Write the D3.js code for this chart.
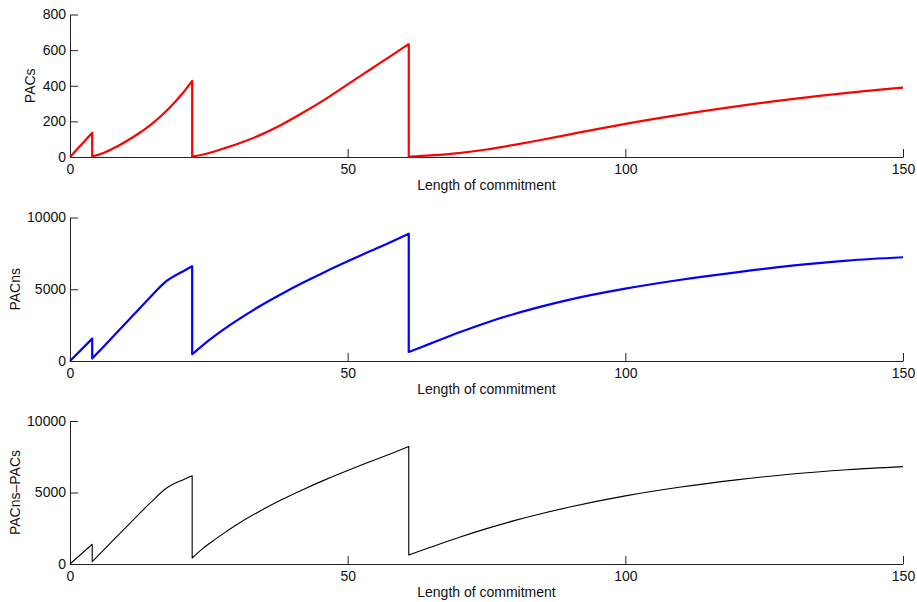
<!DOCTYPE html>
<html>
<head>
<meta charset="utf-8">
<script src="https://cdn.jsdelivr.net/npm/d3@7"></script>
<style>
  body { margin: 0; background: #fff; }
  svg text { font-family: 'Liberation Sans', Arial, Helvetica, sans-serif; font-size: 14px; fill: #111; }
  .axis path, .axis line { stroke: #222; }
</style>
</head>
<body>
<div id="chart"></div>
<script>
// --- data ---
const xTicks = [0, 50, 100, 150];
const pacsTicks = [0, 200, 400, 600, 800];
const pacnsTicks = [0, 5000, 10000];

// x samples of each commitment cycle (resets at 4, 22, 61)
const seg0X = [0, 4];
const seg1X = [4, 6, 8.4, 11.4, 14.4, 17.4, 20.4, 22];
const seg2X = [22, 24, 26, 28, 30, 34, 38, 42, 46, 50, 54, 58, 61];
const seg3X = [61, 65, 70, 75, 80, 85, 90, 100, 110, 120, 130, 140, 150];
const segX = [seg0X, seg1X, seg2X, seg3X];

const pacs = [
  [0, 136],
  [2, 22, 58, 112, 178, 260, 362, 427],
  [2, 14, 31, 51, 72, 120, 180, 250, 325, 408, 490, 572, 634],
  [2, 9, 22, 42, 68, 97, 127, 186, 238, 284, 325, 360, 389]
];
const pacns = [
  [0, 1560],
  [170, 980, 1970, 3200, 4430, 5580, 6260, 6600],
  [470, 1130, 1730, 2290, 2814, 3782, 4654, 5466, 6226, 6946, 7646, 8334, 8874],
  [630, 1230, 1980, 2670, 3280, 3810, 4280, 5040, 5660, 6180, 6640, 7000, 7230]
];
const pacnsMinusPacs = [
  [0, 1380],
  [165, 960, 1910, 3090, 4250, 5310, 5900, 6170],
  [420, 1110, 1690, 2230, 2740, 3660, 4470, 5210, 5900, 6540, 7150, 7750, 8220],
  [630, 1182, 1852, 2472, 3032, 3532, 3982, 4762, 5382, 5882, 6292, 6590, 6810]
];

// --- layout ---
const W = 917, H = 602;
const svg = d3.select('#chart').append('svg').attr('width', W).attr('height', H);

const x = d3.scaleLinear().domain([0, 150]).range([70, 903]);

const panels = [
  { vals: pacs, color: '#ff0000', width: 2.2, ymax: 800, ticks: pacsTicks,
    top: 14.5, bottom: 157, label: 'PACs', labelX: 35 },
  { vals: pacns, color: '#0000ff', width: 2.2, ymax: 10000, ticks: pacnsTicks,
    top: 217.5, bottom: 361, label: 'PACns', labelX: 19.5 },
  { vals: pacnsMinusPacs, color: '#000000', width: 1.1, ymax: 10000, ticks: pacnsTicks,
    top: 421, bottom: 564, label: 'PACns\u2013PACs', labelX: 19.5 }
];

panels.forEach(p => {
  const y = d3.scaleLinear().domain([0, p.ymax]).range([p.bottom, p.top]);

  // y axis, ticks pointing inward (matlab style)
  svg.append('g')
    .attr('class', 'axis')
    .attr('transform', `translate(${x(0)},0)`)
    .call(d3.axisLeft(y).tickValues(p.ticks).tickFormat(d3.format('d'))
      .tickSizeInner(-8).tickSizeOuter(0).tickPadding(4));

  // x axis
  svg.append('g')
    .attr('class', 'axis')
    .attr('transform', `translate(0,${p.bottom})`)
    .call(d3.axisBottom(x).tickValues(xTicks).tickFormat(d3.format('d'))
      .tickSizeInner(-8).tickSizeOuter(0).tickPadding(7));

  svg.append('text')
    .attr('x', (x(0) + x(150)) / 2)
    .attr('y', p.bottom + 33)
    .attr('text-anchor', 'middle')
    .text('Length of commitment');

  svg.append('text')
    .attr('transform', `translate(${p.labelX},${(p.top + p.bottom) / 2}) rotate(-90)`)
    .attr('text-anchor', 'middle')
    .text(p.label);

  // one smooth piece per cycle, joined by the vertical drops
  const line = d3.line()
    .x(d => x(d[0]))
    .y(d => y(d[1]))
    .curve(d3.curveMonotoneX);

  const d = p.vals
    .map((vals, i) => line(segX[i].map((xv, j) => [xv, vals[j]])))
    .map((s, i) => i ? s.replace(/^M/, 'L') : s)
    .join('');

  svg.append('path')
    .attr('d', d)
    .attr('fill', 'none')
    .attr('stroke', p.color)
    .attr('stroke-width', p.width)
    .attr('stroke-linejoin', 'round');
});
</script>
</body>
</html>
